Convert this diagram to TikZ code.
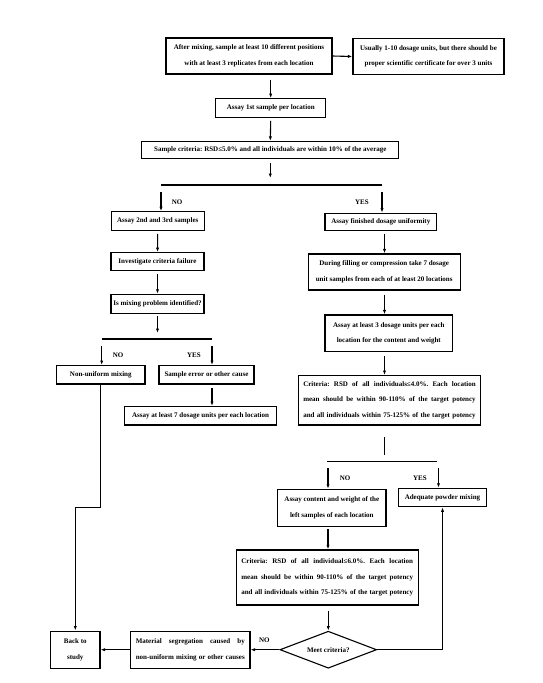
\documentclass[tikz,border=0pt]{standalone}
\usepackage{fontspec}
\setmainfont{Liberation Serif}
\usepackage{tikz}
\usetikzlibrary{arrows.meta, shapes.geometric, calc}

\newcommand{\jrow}[2]{\leavevmode\hbox to #1{\spaceskip=0.25em plus 3em minus 0.12em\relax #2}}
\frenchspacing

\begin{document}
\begin{tikzpicture}[x=1pt, y=-1pt, line join=miter,
    box/.style={draw, line width=1.1pt, inner sep=0pt, align=center,
      font=\fontsize{7}{15.6}\selectfont\bfseries},
    jbox/.style={box, align=left},
    tag/.style={font=\fontsize{7}{8}\selectfont\bfseries, inner sep=0pt},
    arr/.style={line width=1.1pt, -{Latex[length=4.5pt, width=3.2pt]}},
    rule/.style={line width=1.1pt}]
  \useasboundingbox (0,0) rectangle (542,683);

  % Define split points and the column of the right branch
  \coordinate (s1L) at (161,185);
  \coordinate (s1R) at (382,185);
  \coordinate (s2L) at (101.7,339);
  \coordinate (s2R) at (212,339);
  \coordinate (s3L) at (328,461.7);
  \coordinate (s3R) at (438.5,461.7);
  \coordinate (rcol) at (384.5,0);
  \coordinate (turn) at (100.8,507.7);

  % Top of the chart
  \node[box, minimum width=166pt, minimum height=36pt] (mix) at (249,56)
    {After mixing, sample at least 10 different positions\\with at least 3 replicates from each location};
  \node[box, minimum width=151pt, minimum height=36.5pt] (units) at (428.5,56.5)
    {Usually 1-10 dosage units, but there should be\\proper scientific certificate for over 3 units};
  \node[box, minimum width=110pt, minimum height=18.6pt] (assay1) at (270.7,108)
    {Assay 1st sample per location};
  \node[box, minimum width=257pt, minimum height=17pt] (crit0) at (270.3,150)
    {Sample criteria: RSD≤5.0\% and all individuals are within 10\% of the average};

  % Left branch
  \node[box, minimum width=93pt, minimum height=18.5pt] (assay23) at (157.7,221)
    {Assay 2nd and 3rd samples};
  \node[box, minimum width=93pt, minimum height=18pt] (invest) at (157.5,261.7)
    {Investigate criteria failure};
  \node[box, minimum width=93pt, minimum height=19pt] (ident) at (157.5,303.8)
    {Is mixing problem identified?};
  \node[box, minimum width=88.3pt, minimum height=18.3pt] (nonuni) at (100.8,374.8)
    {Non-uniform mixing};
  \node[box, minimum width=95pt, minimum height=18.3pt] (samperr) at (206.5,374.8)
    {Sample error or other cause};
  \node[box, minimum width=152.4pt, minimum height=18.3pt] (assay7) at (200.5,415.8)
    {Assay at least 7 dosage units per each location};

  % Right branch
  \node[box, minimum width=111.7pt, minimum height=17pt] (finished) at (380.8,221.7)
    {Assay finished dosage uniformity};
  \node[box, minimum width=151.7pt, minimum height=36pt] (filling) at (384.2,272)
    {During filling or compression take 7 dosage\\unit samples from each of at least 20 locations};
  \node[box, minimum width=127.7pt, minimum height=36.7pt] (assay3) at (388.8,333.3)
    {Assay at least 3 dosage units per each\\location for the content and weight};
  \node[jbox, text width=172.4pt, minimum width=182.4pt, minimum height=49.3pt] (crit4) at (389.5,400.3)
    {\jrow{172.4pt}{Criteria: RSD of all individuals≤4.0\%. Each location}\\
     \jrow{172.4pt}{mean should be within 90-110\% of the target potency}\\
     \jrow{172.4pt}{and all individuals within 75-125\% of the target potency}};
  \node[box, minimum width=108.3pt, minimum height=36.7pt] (content) at (331.8,507.7)
    {Assay content and weight of the\\left samples of each location};
  \node[box, minimum width=88.4pt, minimum height=18.4pt] (adequate) at (442.5,497.5)
    {Adequate powder mixing};
  \node[jbox, text width=171.7pt, minimum width=182.3pt, minimum height=55pt] (crit6) at (327.2,577.5)
    {\jrow{171.7pt}{Criteria: RSD of all individual≤6.0\%. Each location}\\
     \jrow{171.7pt}{mean should be within 90-110\% of the target potency}\\
     \jrow{171.7pt}{and all individuals within 75-125\% of the target potency}};

  % Bottom row
  \node[box, diamond, aspect=2.6, minimum width=96.7pt, minimum height=37pt] (meet) at (328.3,649.7)
    {Meet criteria?};
  \node[jbox, text width=109pt, minimum width=119.3pt, minimum height=37.3pt] (segr) at (190.3,649.7)
    {\jrow{109pt}{Material segregation caused by}\\
     \jrow{109pt}{non-uniform mixing or other causes}};
  \node[box, minimum width=49.3pt, minimum height=37.3pt] (back) at (75.3,649.7)
    {Back to\\study};

  % Draw connectors of the top part
  \draw[arr] (mix.east) -- (units.west);
  \draw[arr] ($(mix.south -| assay1.north)+(0,5)$) -- (assay1.north);
  \draw[arr] ($(assay1.south)+(0,3)$) -- (crit0.north);
  \draw[arr] ($(crit0.south)+(0,3.5)$) -- ($(crit0.south |- s1L)+(0,-7)$);
  \draw[rule] (s1L) -- (s1R);
  \draw[arr] ($(s1L)+(0,7)$) -- (s1L |- assay23.north);
  \draw[arr] ($(s1R)+(0,7)$) -- (s1R |- finished.north);
  \node[tag] (no1) at (177,202.5) {NO};
  \node[tag] (yes1) at (362,202.5) {YES};

  % Draw connectors of the left branch
  \draw[arr] ($(assay23.south)+(0,3)$) -- (invest.north);
  \draw[arr] ($(invest.south)+(0,3)$) -- (ident.north);
  \draw[arr] ($(ident.south)+(0,2)$) -- ($(ident.south |- s2L)+(0,-6)$);
  \draw[rule] (s2L) -- (s2R);
  \draw[arr] ($(s2L)+(0,7)$) -- (s2L |- nonuni.north);
  \draw[arr] ($(s2R)+(0,7)$) -- (s2R |- samperr.north);
  \node[tag] (no2) at (118,355.5) {NO};
  \node[tag] (yes2) at (194,355.5) {YES};
  \draw[arr] ($(s2R |- samperr.south)+(0,3)$) -- (s2R |- assay7.north);
  \draw[arr] (nonuni.south) -- (turn) -| (back.north);

  % Draw connectors of the right branch
  \draw[arr] ($(finished.south -| rcol)+(0,3)$) -- (filling.north -| rcol);
  \draw[arr] ($(filling.south -| rcol)+(0,4)$) -- (assay3.north -| rcol);
  \draw[arr] ($(assay3.south -| rcol)+(0,4)$) -- (crit4.north -| rcol);
  \draw[rule] ($(crit4.south -| rcol)+(0,11.5)$) -- ($(s3L -| rcol)+(0,-6.5)$);
  \draw[rule] ($(s3L)+(-1,0)$) -- ($(s3R)+(-1.5,0)$);
  \draw[arr] ($(s3L)+(0,6.5)$) -- (s3L |- content.north);
  \draw[arr] ($(s3R)+(0,6.5)$) -- (s3R |- adequate.north);
  \node[tag] (no3) at (345,478.3) {NO};
  \node[tag] (yes3) at (420,478) {YES};
  \draw[arr] ($(content.south -| s3L)+(0,2.5)$) -- (crit6.north -| s3L);
  \draw[arr] ($(crit6.south -| meet.north)+(0,5)$) -- (meet.north);

  % Draw connectors of the bottom row
  \draw[arr] (meet.east) -| (adequate.south);
  \draw[arr] (meet.west) -- (segr.east);
  \node[tag] (no4) at (264.3,640) {NO};
  \draw[arr] (segr.west) -- (back.east);
\end{tikzpicture}
\end{document}
